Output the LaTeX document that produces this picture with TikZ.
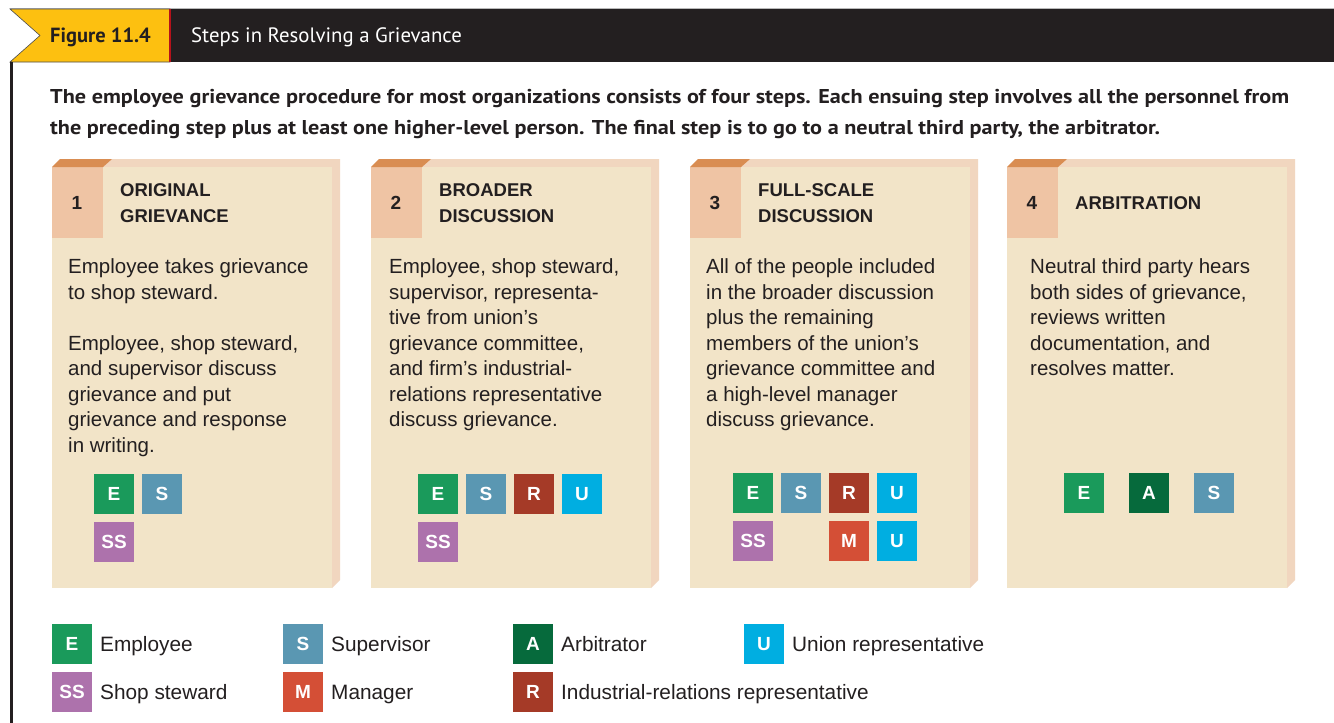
\documentclass[tikz,border=0pt]{standalone}
\usepackage{fontspec}
\setmainfont{Liberation Sans}
\newfontfamily\myriadf{PT Sans}
\newfontfamily\introf[FakeStretch=1.11]{PT Sans}
\definecolor{cardfront}{HTML}{F2E4C8}
\definecolor{cardside}{HTML}{F1D6BF}
\definecolor{tabcol}{HTML}{EFC4A4}
\definecolor{tabtop}{HTML}{D98D52}
\definecolor{cE}{HTML}{1A9A5B}
\definecolor{cS}{HTML}{5A97B2}
\definecolor{cR}{HTML}{A53A27}
\definecolor{cU}{HTML}{00AEE1}
\definecolor{cSS}{HTML}{AD72AC}
\definecolor{cM}{HTML}{D44F36}
\definecolor{cA}{HTML}{066A3C}
\definecolor{hdryellow}{HTML}{FDC010}
\definecolor{hdrblack}{HTML}{231F20}
\definecolor{hdrred}{HTML}{B5121B}
\definecolor{txt}{HTML}{231F20}
\tikzset{
  frontbox/.style={fill=cardfront, draw=none, minimum width=280, minimum height=421, inner sep=0, anchor=north west},
  numtxt/.style={font=\bfseries\fontsize{19}{22}\selectfont, text=txt, inner sep=0},
  titletxt/.style={font=\bfseries\fontsize{18.5}{26}\selectfont, text=txt, anchor=west, align=left, inner sep=0},
  bodytxt/.style={font=\fontsize{20.5}{25.5}\selectfont, text=txt, anchor=north west, align=left, inner sep=0},
  badge/.style={minimum size=40, inner sep=0, text=white, font=\bfseries\fontsize{19}{20}\selectfont},
  legtxt/.style={font=\fontsize{20.8}{24}\selectfont, text=txt, anchor=base west, inner sep=0},
}
\newcommand\stepcard[4]{%
  \fill[cardside] (#1,167) -- (#1+8,159) -- (#1+288,159) -- (#1+288,580) -- (#1+280,588) -- (#1+280,167) -- cycle;
  \node[frontbox] (card#2) at (#1,167) {};
  \fill[tabcol] (#1,167) rectangle (#1+51,238);
  \fill[tabtop] (#1,167) -- (#1+8,159) -- (#1+60,159) -- (#1+51,167) -- cycle;
  \node[numtxt] (num#2) at (#1+25,202.5) {#3};
  \node[titletxt] (ttl#2) at (#1+68,203) {#4};
}
\begin{document}
\begin{tikzpicture}[x=1pt,y=-1pt]
\useasboundingbox (0,0) rectangle (1334,723);
\fill[white] (0,0) rectangle (1334,723);
% header
\draw[gray!55, line width=0.8] (10,8.6) -- (1334,8.6);
\fill[hdrblack] (170,9) rectangle (1334,62);
\filldraw[fill=hdryellow, draw=gray!60!black, line width=0.6] (10,9) -- (170,9) -- (170,62) -- (10,62) -- (40,35.5) -- cycle;
\fill[hdrred] (168.5,9) rectangle (171,62);
\fill[hdrblack] (10,62) rectangle (12.5,723);
\node[anchor=west, inner sep=0, font=\myriadf\bfseries\fontsize{20.5}{24}\selectfont, text=hdrblack] (figlbl) at (50,37) {Figure 11.4};
\node[anchor=west, inner sep=0, font=\myriadf\fontsize{20.8}{24}\selectfont, text=white] (figttl) at (191,37) {Steps in Resolving a Grievance};
% intro
\node[anchor=north west, inner sep=0, align=left, text=txt, font=\introf\bfseries\fontsize{20}{31}\selectfont] (intro) at (50,89)
 {The employee grievance procedure for most organizations consists of four steps. Each ensuing step involves all the personnel from\\
  the preceding step plus at least one higher-level person. The final step is to go to a neutral third party, the arbitrator.};
% cards
\stepcard{52}{1}{1}{ORIGINAL\\GRIEVANCE}
\stepcard{371}{2}{2}{BROADER\\DISCUSSION}
\stepcard{690}{3}{3}{FULL-SCALE\\DISCUSSION}
\stepcard{1007}{4}{4}{ARBITRATION}
\node[bodytxt] (body1) at (68,258.5) {Employee takes grievance\\to shop steward.\\[25.5pt]Employee, shop steward,\\and supervisor discuss\\grievance and put\\grievance and response\\in writing.};
\node[bodytxt] (body2) at (389,258.5) {Employee, shop steward,\\supervisor, representa-\\tive from union’s\\grievance committee,\\and firm’s industrial-\\relations representative\\discuss grievance.};
\node[bodytxt] (body3) at (706,258.5) {All of the people included\\in the broader discussion\\plus the remaining\\members of the union’s\\grievance committee and\\a high-level manager\\discuss grievance.};
\node[bodytxt] (body4) at (1030,258.5) {Neutral third party hears\\both sides of grievance,\\reviews written\\documentation, and\\resolves matter.};
% badges card 1
\node[badge, fill=cE] (c1E) at (114,494) {E};
\node[badge, fill=cS] (c1S) at (162,494) {S};
\node[badge, fill=cSS] (c1SS) at (114,542) {SS};
% card 2
\node[badge, fill=cE] (c2E) at (438,494) {E};
\node[badge, fill=cS] (c2S) at (486,494) {S};
\node[badge, fill=cR] (c2R) at (534,494) {R};
\node[badge, fill=cU] (c2U) at (582,494) {U};
\node[badge, fill=cSS] (c2SS) at (438,542) {SS};
% card 3
\node[badge, fill=cE] (c3E) at (753,493) {E};
\node[badge, fill=cS] (c3S) at (801,493) {S};
\node[badge, fill=cR] (c3R) at (849,493) {R};
\node[badge, fill=cU] (c3U) at (897,493) {U};
\node[badge, fill=cSS] (c3SS) at (753,541) {SS};
\node[badge, fill=cM] (c3M) at (849,541) {M};
\node[badge, fill=cU] (c3U2) at (897,541) {U};
% card 4
\node[badge, fill=cE] (c4E) at (1084,493) {E};
\node[badge, fill=cA] (c4A) at (1149,493) {A};
\node[badge, fill=cS] (c4S) at (1214,493) {S};
% legend
\node[badge, fill=cE] (lE) at (72,644) {E};
\node[legtxt] (lEt) at (100,651.5) {Employee};
\node[badge, fill=cSS] (lSS) at (72,692) {SS};
\node[legtxt] (lSSt) at (100,699.5) {Shop steward};
\node[badge, fill=cS] (lS) at (303,644) {S};
\node[legtxt] (lSt) at (331,651.5) {Supervisor};
\node[badge, fill=cM] (lM) at (303,692) {M};
\node[legtxt] (lMt) at (331,699.5) {Manager};
\node[badge, fill=cA] (lA) at (533,644) {A};
\node[legtxt] (lAt) at (561,651.5) {Arbitrator};
\node[badge, fill=cR] (lR) at (533,692) {R};
\node[legtxt] (lRt) at (561,699.5) {Industrial-relations representative};
\node[badge, fill=cU] (lU) at (764,644) {U};
\node[legtxt] (lUt) at (792,651.5) {Union representative};
\end{tikzpicture}
\end{document}
